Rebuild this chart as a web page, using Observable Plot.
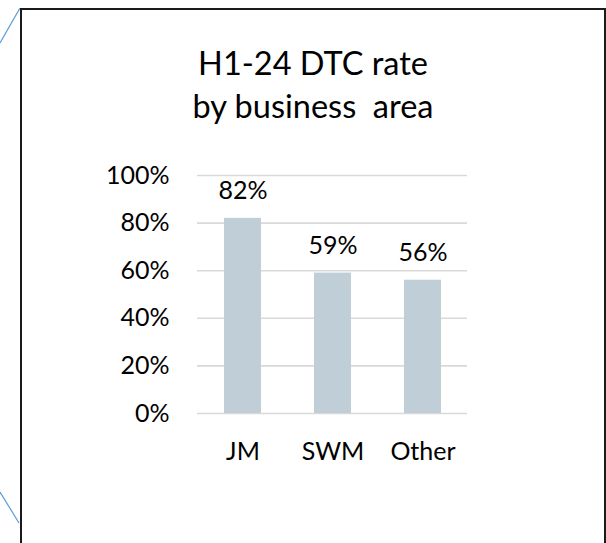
<!DOCTYPE html>
<html>
<head>
<meta charset="utf-8">
<script src="https://cdn.jsdelivr.net/npm/d3@7"></script>
<script src="https://cdn.jsdelivr.net/npm/@observablehq/plot@0.6"></script>
<style>
  html, body { margin: 0; padding: 0; background: #fff; }
  #wrap { position: relative; width: 606px; height: 543px; overflow: hidden; font-family: Lato, "Open Sans", sans-serif; }
  #frame { position: absolute; left: 20px; top: 8px; width: 582px; height: 600px; border: 2px solid #1a1a1a; border-bottom: none; box-sizing: content-box; }
  #title { position: absolute; left: 20px; width: 586px; top: 41px; text-align: center; font-size: 32.5px; line-height: 43px; color: #000; white-space: pre; }
  #deco { position: absolute; left: 0; top: 0; }
  #chart { position: absolute; left: 0; top: 0; }
</style>
</head>
<body>
<div id="wrap">
  <svg id="deco" width="606" height="543">
    <line x1="0" y1="43" x2="20" y2="8" stroke="#5b9bd5" stroke-width="1.2"/>
    <line x1="0" y1="492" x2="19" y2="523" stroke="#5b9bd5" stroke-width="1.2"/>
  </svg>
  <div id="frame"></div>
  <div id="title">H1-24 DTC rate
by business  area</div>
  <div id="chart"></div>
</div>
<script>
const categories = ["JM", "SWM", "Other"];
const rates = [0.82, 0.59, 0.56];
const yTicks = [0, 0.2, 0.4, 0.6, 0.8, 1.0];

const data = categories.map((c, i) => ({category: c, rate: rates[i]}));

const fs = 25;
const chart = Plot.plot({
  width: 606,
  height: 543,
  marginLeft: 197,
  marginRight: 139,
  marginTop: 175,
  marginBottom: 130,
  style: {fontFamily: "Lato, 'Open Sans', sans-serif", fontSize: fs + "px", color: "#000", background: "transparent"},
  x: {domain: categories, paddingInner: 0.59, paddingOuter: 0.295, label: null},
  y: {domain: [0, 1], label: null},
  marks: [
    Plot.gridY(yTicks, {stroke: "#d9d9d9", strokeOpacity: 1, strokeWidth: 1.6}),
    Plot.barY(data, {x: "category", y: "rate", fill: "#bfced7"}),
    Plot.text(data, {x: "category", y: "rate", text: d => d3.format(".0%")(d.rate), dy: -27, fontSize: fs, fill: "#000"}),
    Plot.axisY(yTicks, {tickSize: 0, tickPadding: 28, tickFormat: d3.format(".0%"), fontSize: fs, label: null}),
    Plot.axisX({tickSize: 0, tickPadding: 29, fontSize: fs, label: null})
  ]
});
document.getElementById("chart").appendChild(chart);
</script>
</body>
</html>
